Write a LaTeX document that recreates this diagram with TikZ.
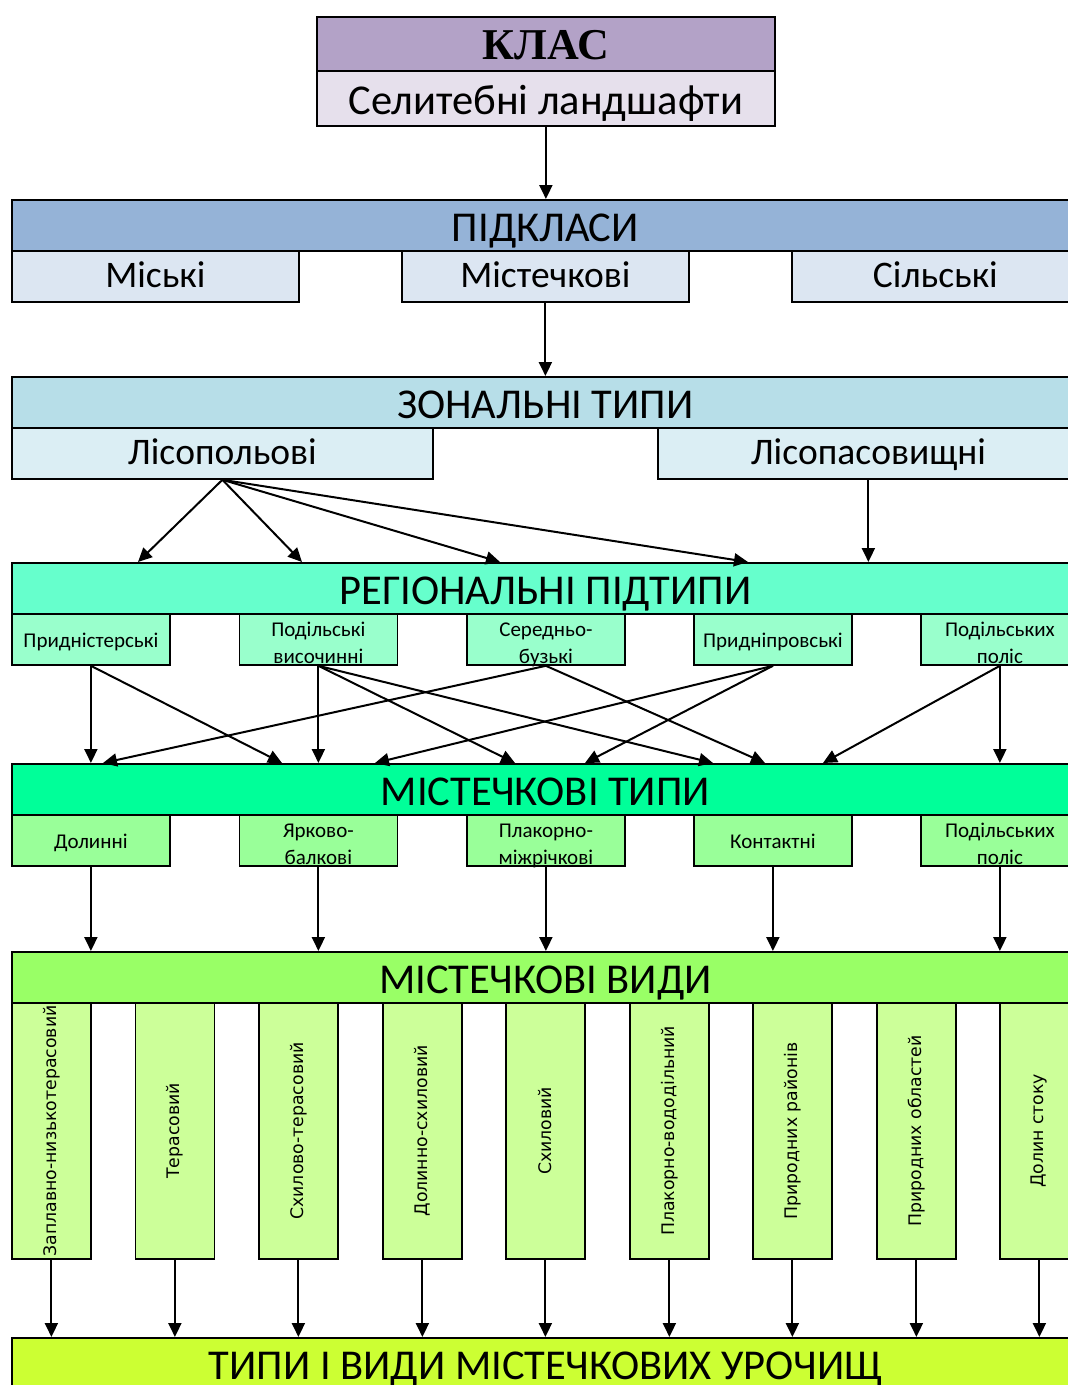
\documentclass[tikz,border=0pt]{standalone}
\usepackage{fontspec}
\setmainfont{Carlito}
\newfontfamily\timesb{Liberation Serif}
\newfontfamily\dejavu{DejaVu Sans}
\usetikzlibrary{arrows.meta}
\definecolor{klasC}{HTML}{B3A2C7}
\definecolor{selC}{HTML}{E6E0EC}
\definecolor{pkC}{HTML}{95B3D7}
\definecolor{pksC}{HTML}{DCE6F2}
\definecolor{zonC}{HTML}{B7DEE8}
\definecolor{zonsC}{HTML}{DBEEF4}
\definecolor{regC}{HTML}{66FFCC}
\definecolor{regsC}{HTML}{99FFCC}
\definecolor{mtC}{HTML}{00FF99}
\definecolor{mtsC}{HTML}{99FF99}
\definecolor{mvC}{HTML}{99FF66}
\definecolor{mvsC}{HTML}{CCFF99}
\definecolor{botC}{HTML}{CCFF33}
\begin{document}
\begin{tikzpicture}[x=1pt,y=-1pt,
  bx/.style={draw=black,line width=1.8pt,inner sep=0pt,anchor=north west,align=center},
  big/.style={font=\fontsize{42.5}{44}\selectfont,text height=32.4pt,text depth=0pt},
  mid/.style={font=\fontsize{37.5}{40}\selectfont,text height=22.4pt,text depth=0pt},
  sml/.style={font=\fontsize{21}{27}\selectfont,text height=16pt,text depth=0pt},
  two/.style={text height=49pt,text depth=0pt},
  bar/.style={bx,big,minimum width=1067pt,minimum height=51pt},
  sub/.style={bx,mid,minimum width=287pt,minimum height=51pt},
  zsub/.style={bx,mid,minimum width=421pt,minimum height=51pt},
  ssub/.style={bx,sml,minimum width=158pt,minimum height=51pt},
  vbox/.style={bx,minimum width=79pt,minimum height=256pt,fill=mvsC},
  vtxt/.style={rotate=90,font=\dejavu\fontsize{17.3}{19}\selectfont,inner sep=0pt},
  arr/.style={line width=2pt,-{Triangle[length=14pt,width=13pt]}},
]
\clip (0,0) rectangle (1068,1385);
\fill[white] (0,0) rectangle (1068,1385);

% class
\node[bx,fill=klasC,minimum width=458pt,minimum height=54pt,font=\timesb\bfseries\fontsize{44}{46}\selectfont,text height=30.6pt,text depth=0pt] (klas) at (316,16) {КЛАС};
\node[bx,big,fill=selC,minimum width=458pt,minimum height=55pt,text height=31.6pt] (sel) at (316,70) {Селитебні ландшафти};

% subclasses
\node[bar,fill=pkC] (pk) at (11,199) {ПІДКЛАСИ};
\node[sub,fill=pksC] (ps1) at (11,250) {Міські};
\node[sub,fill=pksC] (ps2) at (401,250) {Містечкові};
\node[sub,fill=pksC] (ps3) at (791,250) {Сільські};

% zonal
\node[bar,fill=zonC] (zon) at (11,376) {ЗОНАЛЬНІ ТИПИ};
\node[zsub,fill=zonsC] (za) at (11,427) {Лісопольові};
\node[zsub,fill=zonsC] (zb) at (657,427) {Лісопасовищні};

% regional
\node[bar,fill=regC] (reg) at (11,562) {РЕГІОНАЛЬНІ ПІДТИПИ};
\node[ssub,fill=regsC] (r1) at (11,613) {Придністерські};
\node[ssub,two,fill=regsC] (r2) at (238.5,613) {Подільські\\височинні};
\node[ssub,two,fill=regsC] (r3) at (466,613) {Середньо-\\бузькі};
\node[ssub,fill=regsC] (r4) at (693,613) {Придніпровські};
\node[ssub,two,fill=regsC] (r5) at (920,613) {Подільських\\поліс};

% types
\node[bar,fill=mtC] (mt) at (11,763) {МІСТЕЧКОВІ ТИПИ};
\node[ssub,fill=mtsC] (m1) at (11,814) {Долинні};
\node[ssub,two,fill=mtsC] (m2) at (238.5,814) {Ярково-\\балкові};
\node[ssub,two,fill=mtsC] (m3) at (466,814) {Плакорно-\\міжрічкові};
\node[ssub,fill=mtsC] (m4) at (693,814) {Контактні};
\node[ssub,two,fill=mtsC] (m5) at (920,814) {Подільських\\поліс};

% kinds
\node[bar,fill=mvC] (mv) at (11,951) {МІСТЕЧКОВІ ВИДИ};
\node[vbox] (v1) at (11,1002) {};
\node[vbox] (v2) at (134.5,1002) {};
\node[vbox] (v3) at (258,1002) {};
\node[vbox] (v4) at (382,1002) {};
\node[vbox] (v5) at (505,1002) {};
\node[vbox] (v6) at (629,1002) {};
\node[vbox] (v7) at (752,1002) {};
\node[vbox] (v8) at (876,1002) {};
\node[vbox] (v9) at (999,1002) {};
\node[vtxt] (t1) at (v1.center) {Заплавно-низькотерасовий};
\node[vtxt] (t2) at (v2.center) {Терасовий};
\node[vtxt] (t3) at (v3.center) {Схилово-терасовий};
\node[vtxt] (t4) at (v4.center) {Долинно-схиловий};
\node[vtxt] (t5) at (v5.center) {Схиловий};
\node[vtxt] (t6) at (v6.center) {Плакорно-вододільний};
\node[vtxt] (t7) at (v7.center) {Природних районів};
\node[vtxt] (t8) at (v8.center) {Природних областей};
\node[vtxt] (t9) at (v9.center) {Долин стоку};

% bottom
\node[bar,fill=botC] (bot) at (11,1337) {ТИПИ І ВИДИ МІСТЕЧКОВИХ УРОЧИЩ};

% coordinates on bar tops
\coordinate (ra) at (138,562);
\coordinate (rb) at (302,562);
\coordinate (rc) at (500,562);
\coordinate (rd) at (748,562);
\coordinate (ta) at (282,763);
\coordinate (tb) at (515,763);
\coordinate (tc) at (713,763);
\coordinate (td) at (103,763);
\coordinate (te) at (765,763);
\coordinate (tf) at (375,763);
\coordinate (tg) at (585,763);
\coordinate (th) at (823,763);

% arrows
\draw[arr] (sel.south) -- (sel.south |- pk.north);
\draw[arr] (ps2.south) -- (ps2.south |- zon.north);
\draw[arr] (za.south) -- (ra);
\draw[arr] (za.south) -- (rb);
\draw[arr] (za.south) -- (rc);
\draw[arr] (za.south) -- (rd);
\draw[arr] (zb.south) -- (zb.south |- reg.north);

\draw[arr] (r1.south) -- (r1.south |- mt.north);
\draw[arr] (r1.south) -- (ta);
\draw[arr] (r2.south) -- (r2.south |- mt.north);
\draw[arr] (r2.south) -- (tb);
\draw[arr] (r2.south) -- (tc);
\draw[arr] (r3.south) -- (td);
\draw[arr] (r3.south) -- (te);
\draw[arr] (r4.south) -- (tf);
\draw[arr] (r4.south) -- (tg);
\draw[arr] (r5.south) -- (th);
\draw[arr] (r5.south) -- (r5.south |- mt.north);

\foreach \i in {1,...,5} \draw[arr] (m\i.south) -- (m\i.south |- mv.north);
\foreach \i in {1,...,9} \draw[arr] (v\i.south) -- (v\i.south |- bot.north);
\end{tikzpicture}
\end{document}
